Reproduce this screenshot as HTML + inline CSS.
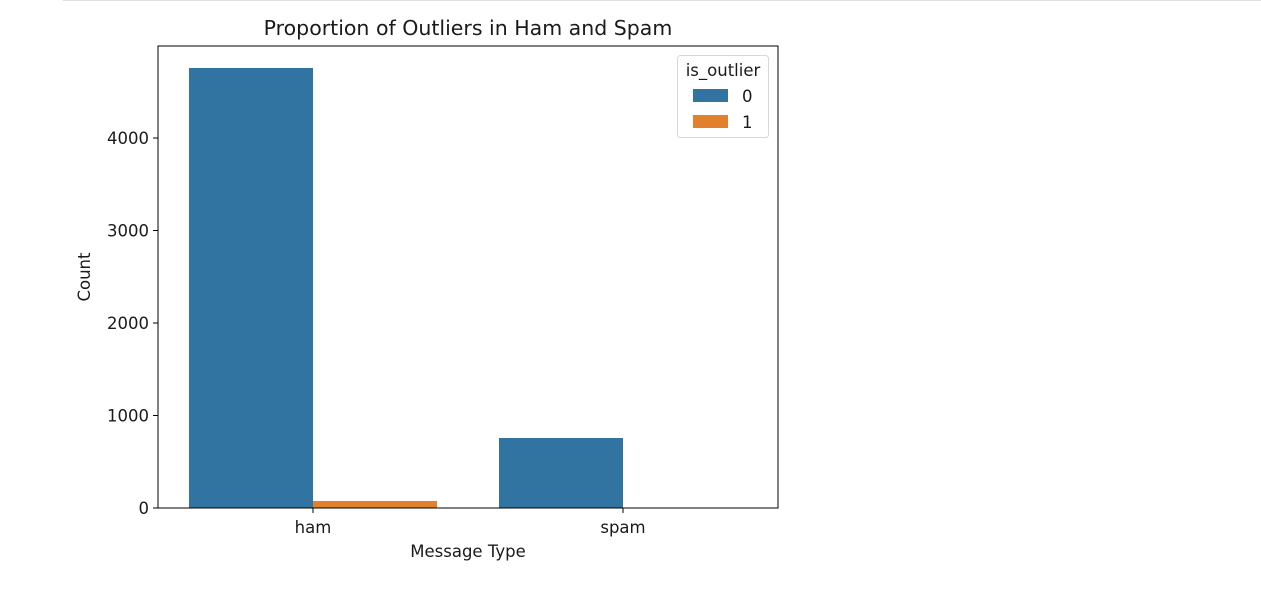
<!DOCTYPE html>
<html><head><meta charset="utf-8"><style>
body{margin:0;background:#fff;width:1261px;height:584px;overflow:hidden}
svg text{font-family:"DejaVu Sans","Liberation Sans",sans-serif;fill:#1a1a1a}
</style></head><body>
<svg id="c" width="1261" height="584">
<line x1="63" y1="0.5" x2="1261" y2="0.5" stroke="#e0e0e0"/>
</svg>
<script>
const categories=["ham","spam"];
const series0=[4757,757];
const series1=[76,0];
const yTicks=[0,1000,2000,3000,4000];
const seriesNames=["0","1"];
const colors=["#3274a1","#e1812c"];
const L=158,R=778,T=46,B=508,per=0.0925;
const svg=document.getElementById('c');
const NS="http://www.w3.org/2000/svg";
function mk(t,a,txt){const e=document.createElementNS(NS,t);for(const k in a)e.setAttribute(k,a[k]);if(txt!==undefined)e.textContent=txt;svg.appendChild(e);return e;}
const y=v=>B-v*per;
const band=(R-L)/categories.length;
const xc=i=>L+band*(i+0.5);
const bw=band*0.4;
[series0,series1].forEach((s,si)=>{s.forEach((v,i)=>{
 const x0=xc(i)-bw+si*bw;
 const r=mk('rect',{x:x0,y:y(v),width:bw,height:B-y(v),fill:colors[si]});
 
 
});});
const ax=mk('rect',{x:L,y:T,width:R-L,height:B-T,fill:'none',stroke:'#000','stroke-width':1});

yTicks.forEach(v=>{
 const tk=mk('line',{x1:L-5,x2:L,y1:y(v),y2:y(v),stroke:'#000'});
 
 const t=mk('text',{x:L-9,y:y(v)+6,'text-anchor':'end','font-size':16.5},String(v));
 
});
categories.forEach((c,i)=>{
 const tk=mk('line',{x1:xc(i),x2:xc(i),y1:B,y2:B+5,stroke:'#000'});
 
 const t=mk('text',{x:xc(i),y:B+25,'text-anchor':'middle','font-size':16.5},c);
 
});
let t=mk('text',{x:(L+R)/2,y:35,'text-anchor':'middle','font-size':20.5},'Proportion of Outliers in Ham and Spam');

t=mk('text',{x:(L+R)/2,y:557,'text-anchor':'middle','font-size':16.5},'Message Type');

t=mk('text',{x:90,y:277,'text-anchor':'middle','font-size':16.5,transform:'rotate(-90 90 277)'},'Count');

const lg=mk('rect',{x:677.5,y:55.5,width:91,height:82,rx:3,fill:'#fff',stroke:'#d8d8d8'});

t=mk('text',{x:723,y:76,'text-anchor':'middle','font-size':16.5},'is_outlier');

seriesNames.forEach((n,i)=>{
 const sw=mk('rect',{x:693,y:89+i*26,width:35,height:13,fill:colors[i]});
 
 const lt=mk('text',{x:742,y:102+i*26,'font-size':16.5},n);
 
});
</script>
</body></html>
